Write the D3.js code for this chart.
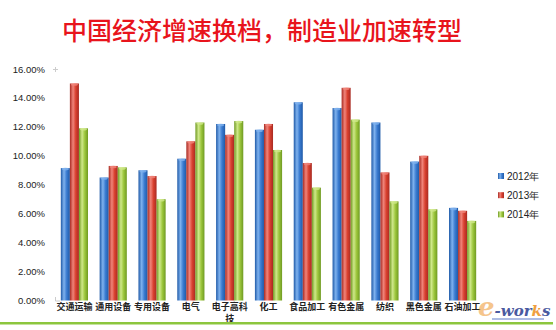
<!DOCTYPE html>
<html>
<head>
<meta charset="utf-8">
<script src="https://cdn.jsdelivr.net/npm/d3@7"></script>
<style>
  body { margin: 0; background: #fff; }
  svg { display: block; }
</style>
</head>
<body>
<div id="chart"></div>
<script>
var categories = ["交通运输", "通用设备", "专用设备", "电气", "电子高科技", "化工",
                  "食品加工", "有色金属", "纺织", "黑色金属", "石油加工"];
var years = ["2012年", "2013年", "2014年"];
var v2012 = [9.15, 8.5, 9.0, 9.8, 12.2, 11.8, 13.7, 13.3, 12.3, 9.6, 6.4];
var v2013 = [15.0, 9.3, 8.6, 11.0, 11.45, 12.2, 9.5, 14.7, 8.85, 10.0, 6.2];
var v2014 = [11.9, 9.2, 7.0, 12.3, 12.4, 10.4, 7.8, 12.5, 6.85, 6.3, 5.5];
var yTicks = [0, 2, 4, 6, 8, 10, 12, 14, 16];

var series = [v2012, v2013, v2014];
var width = 556, height = 330;

var svg = d3.select("#chart").append("svg")
            .attr("width", width)
            .attr("height", height)

// bar colours: dark edge, light highlight, base
var colors = [
  {dark: "#1f5aa8", light: "#7fb2ee", base: "#3a7bd0"},
  {dark: "#a82a22", light: "#f0847a", base: "#d9402f"},
  {dark: "#6f9a22", light: "#cfe88a", base: "#9cc63c"}
];

var defs = svg.append("defs");
colors.forEach((c, i) => {
  var gr = defs.append("linearGradient").attr("id", "g" + i)
              .attr("x1", "0").attr("x2", "1").attr("y1", "0").attr("y2", "0");
  gr.append("stop").attr("offset", "0%").attr("stop-color", c.dark);
  gr.append("stop").attr("offset", "35%").attr("stop-color", c.light);
  gr.append("stop").attr("offset", "65%").attr("stop-color", c.base);
  gr.append("stop").attr("offset", "100%").attr("stop-color", c.dark);
});

var x = d3.scaleBand().domain(categories).range([55, 482]).paddingInner(0.3).paddingOuter(0.15);
var xs = d3.scaleBand().domain(d3.range(3)).range([0, x.bandwidth()]);
var y = d3.scaleLinear().domain([0, 16]).range([300.5, 69]);

// title
svg.append("text")
   .attr("x", 262).attr("y", 40)
   .attr("text-anchor", "middle")
   .style("font-family", "'Noto Sans CJK SC', sans-serif")
   .style("font-weight", "500")
   .style("font-size", "25px")
   .style("fill", "#e8141c")
   .text("中国经济增速换档，制造业加速转型");

// y axis labels
var yAxis = d3.axisLeft(y).tickValues(yTicks).tickSize(0).tickPadding(0)
              .tickFormat(d => d.toFixed(2) + "%");
var ya = svg.append("g").attr("transform", "translate(45,0)").call(yAxis);
ya.select(".domain").remove();
ya.selectAll("text")
  .style("font-family", "'Liberation Sans', Arial, sans-serif")
  .style("font-size", "9.5px")
  .style("fill", "#222");

// faint axis marks
svg.append("path").attr("d", "M53,69.5H58M55.5,67V72").attr("stroke", "#ccc").attr("fill", "none");
svg.append("path").attr("d", "M55.5,297V301H60").attr("stroke", "#ccc").attr("fill", "none");

// bars
var groups = svg.selectAll("g.grp")
  .data(categories)
  .enter().append("g")
  .attr("class", "grp")
  .attr("transform", d => "translate(" + x(d) + ",0)");

groups.selectAll("rect")
  .data((d, i) => series.map((s, k) => ({k: k, v: s[i]})))
  .enter().append("rect")
  .attr("x", d => xs(d.k))
  .attr("width", xs.bandwidth())
  .attr("y", d => y(d.v))
  .attr("height", d => y(0) - y(d.v))
  .attr("fill", d => "url(#g" + d.k + ")");

// little caps on top of bars
groups.selectAll("ellipse")
  .data((d, i) => series.map((s, k) => ({k: k, v: s[i]})))
  .enter().append("ellipse")
  .attr("cx", d => xs(d.k) + xs.bandwidth() / 2)
  .attr("cy", d => y(d.v) + 1)
  .attr("rx", xs.bandwidth() / 2 - 1)
  .attr("ry", 1.3)
  .attr("fill", d => colors[d.k].light)
  .attr("opacity", 0.8);

// category labels
var catText = svg.selectAll("text.cat")
  .data(categories)
  .enter().append("text")
  .attr("class", "cat")
  .attr("x", d => x(d) + x.bandwidth() / 2)
  .attr("y", 310)
  .attr("text-anchor", "middle")
  .style("font-family", "'Noto Sans CJK SC', sans-serif")
  .style("font-weight", "bold")
  .style("font-size", "9px")
  .style("fill", "#222");
catText.each(function(d) {
  var t = d3.select(this);
  if (d.length > 4) {
    t.append("tspan").attr("x", x(d) + x.bandwidth() / 2).text(d.slice(0, 4));
    t.append("tspan").attr("x", x(d) + x.bandwidth() / 2).attr("dy", 12).text(d.slice(4));
  } else {
    t.text(d);
  }
});

// legend
var legend = svg.selectAll("g.leg")
  .data(years)
  .enter().append("g")
  .attr("class", "leg")
  .attr("transform", (d, i) => "translate(498," + (176 + i * 19.2) + ")");
legend.append("rect")
  .attr("x", 0).attr("y", -3).attr("width", 6).attr("height", 6)
  .attr("fill", (d, i) => "url(#g" + i + ")");
legend.append("text")
  .attr("x", 9).attr("y", 4)
  .style("font-family", "'Liberation Sans', Arial, sans-serif")
  .style("font-size", "10px")
  .style("fill", "#222")
  .text(d => d);

// bottom green line
svg.append("rect").attr("x", 0).attr("y", 322).attr("width", 553).attr("height", 2.5).attr("fill", "#8cc63e");

// e-works mark
var logo = svg.append("text")
  .attr("x", 478).attr("y", 316)
  .style("font-family", "'DejaVu Serif', serif")
  .style("font-style", "italic")
  .style("font-weight", "bold")
  .style("font-size", "15px");
logo.append("tspan").style("fill", "#f0a040").style("font-size", "26px").attr("opacity", 0.6).text("e");
logo.append("tspan").style("fill", "#4a5aa0").text("-wor");
logo.append("tspan").style("fill", "#f0a040").text("k");
logo.append("tspan").style("fill", "#4a5aa0").text("s");
svg.append("rect").attr("x", 492).attr("y", 318).attr("width", 52).attr("height", 2).attr("fill", "#8aa0d8").attr("opacity", 0.7);
</script>
</body>
</html>
